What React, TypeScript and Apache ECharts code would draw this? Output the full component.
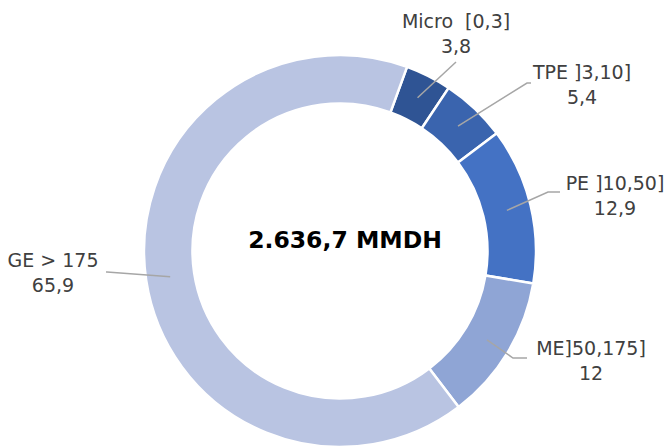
import React, { useEffect, useRef } from "react";
import * as echarts from "echarts";

const categories = ["Micro  [0,3]", "TPE ]3,10]", "PE ]10,50]", "ME]50,175]", "GE > 175"];
const shares = [3.8, 5.4, 12.9, 12, 65.9];
const totalLabel = "2.636,7 MMDH";

const colors = ["#2F5494", "#3A64AE", "#4472C4", "#8FA5D5", "#B9C4E2"];

// label block centres and label-line bend/end points (layout only)
const labelPos: [number, number][] = [
  [456, 33],
  [582, 84],
  [615, 195],
  [591, 360],
  [53, 272],
];
const lineBend: [number, number][] = [
  [456, 62],
  [527, 83],
  [548, 192],
  [513, 358],
  [107, 272],
];
const lineEnd: [number, number][] = [
  [456, 62],
  [531, 83],
  [560, 192],
  [527, 358],
  [106, 272],
];

const CX = 340;
const CY = 251;
const R_IN = 147.5;
const R_OUT = 196;
const START = 70; // degrees, echarts convention

export default function App() {
  const ref = useRef<HTMLDivElement>(null);
  useEffect(() => {
    document.body.style.margin = "0";
    const chart = echarts.init(ref.current!, undefined, { renderer: "svg" });
    const total = shares.reduce((a, b) => a + b, 0);
    const rMid = (R_IN + R_OUT) / 2;
    let acc = 0;
    const guideLines = shares.map((v, i) => {
      const mid = (acc + v / 2) / total * 360;
      acc += v;
      const a = ((90 - START) + mid) * Math.PI / 180;
      const sx = CX + rMid * Math.sin(a);
      const sy = CY - rMid * Math.cos(a);
      return {
        type: "polyline",
        z: 100,
        shape: { points: [[sx, sy], lineBend[i], lineEnd[i]] },
        style: { stroke: "#A6A6A6", lineWidth: 1.5, fill: "none" },
      };
    });
    chart.setOption({
      animation: false,
      backgroundColor: "#ffffff",
      graphic: [
        ...guideLines,
        {
          type: "text",
          x: 345,
          y: 240,
          z: 100,
          style: {
            text: totalLabel,
            font: "bold 23.5px 'DejaVu Sans'",
            fill: "#000000",
            textAlign: "center",
            textVerticalAlign: "middle",
          },
        },
      ],
      series: [
        {
          type: "pie",
          center: [CX, CY],
          radius: [R_IN, R_OUT],
          startAngle: START,
          clockwise: true,
          avoidLabelOverlap: false,
          itemStyle: { borderColor: "#ffffff", borderWidth: 2.5 },
          label: {
            show: true,
            position: "outside",
            fontFamily: "DejaVu Sans",
            fontSize: 19,
            lineHeight: 25,
            color: "#404040",
            formatter: (p: any) => `${p.name}\n${String(p.value).replace(".", ",")}`,
          },
          labelLine: { show: false },
          labelLayout: (params: any) => {
            const i = params.dataIndex;
            return {
              x: labelPos[i][0],
              y: labelPos[i][1],
              align: "center",
              verticalAlign: "middle",
            };
          },
          data: categories.map((name, i) => ({
            name,
            value: shares[i],
            itemStyle: { color: colors[i] },
          })),
        },
      ],
    });
    return () => chart.dispose();
  }, []);
  return <div ref={ref} style={{ width: 669, height: 448 }} />;
}
